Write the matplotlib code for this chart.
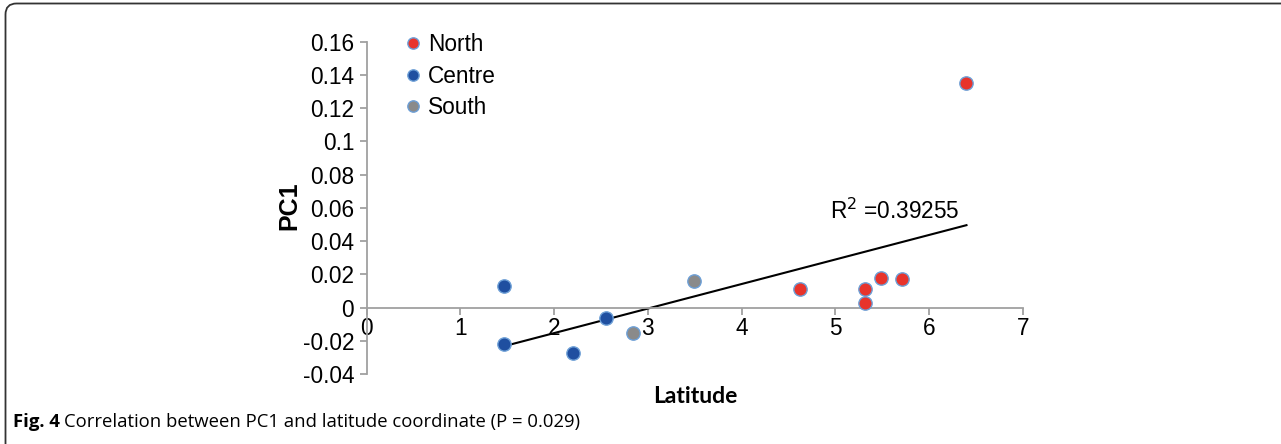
import numpy as np
import matplotlib
matplotlib.use("Agg")
import matplotlib.pyplot as plt
from matplotlib.patches import PathPatch
from matplotlib.path import Path

# Latitude / PC1 values by region
north_lat = [4.62, 5.32, 5.32, 5.49, 5.71, 6.40]
north_pc1 = [0.011, 0.011, 0.003, 0.018, 0.017, 0.135]
centre_lat = [1.46, 1.46, 2.20, 2.55]
centre_pc1 = [0.013, -0.022, -0.027, -0.006]
south_lat = [2.84, 3.49]
south_pc1 = [-0.015, 0.016]

x_ticks = [0, 1, 2, 3, 4, 5, 6, 7]
y_ticks = [-0.04, -0.02, 0, 0.02, 0.04, 0.06, 0.08, 0.1, 0.12, 0.14, 0.16]
y_ticklabels = ["-0.04", "-0.02", "0", "0.02", "0.04", "0.06", "0.08", "0.1",
                "0.12", "0.14", "0.16"]
r2_label = "0.39255"

W, H, DPI = 1281, 444, 100
fig = plt.figure(figsize=(W / DPI, H / DPI), dpi=DPI)
fig.patch.set_facecolor("white")

# frame around the figure panel (open to the right and bottom)
frame = fig.add_axes([0, 0, 1, 1])
frame.set_xlim(0, W)
frame.set_ylim(H, 0)
frame.axis("off")
r = 11
x0, y0 = 5.5, 3.5
verts = [(x0, H + 5), (x0, y0 + r), (x0, y0), (x0 + r, y0), (W + 5, y0)]
codes = [Path.MOVETO, Path.LINETO, Path.CURVE3, Path.CURVE3, Path.LINETO]
frame.add_patch(PathPatch(Path(verts, codes), fill=False, edgecolor="#333333", lw=1.3))

ax = fig.add_axes([366.7 / W, (H - 374.2) / H, 656 / W, (374.2 - 41.7) / H])
ax.set_xlim(0, 7)
ax.set_ylim(-0.04, 0.16)
ax.patch.set_alpha(0)

fs = 16.3
tick_font = dict(family="Liberation Sans", size=fs)
axis_grey = "#a0a0a0"
for s in ["top", "right"]:
    ax.spines[s].set_visible(False)
ax.spines["bottom"].set_position(("data", 0))
ax.spines["left"].set_position(("data", 0))
for s in ["bottom", "left"]:
    ax.spines[s].set_color(axis_grey)
    ax.spines[s].set_linewidth(1.3)

ax.set_xticks(x_ticks)
ax.set_xticklabels([str(v) for v in x_ticks], **tick_font)
ax.set_yticks(y_ticks)
ax.set_yticklabels(y_ticklabels, **tick_font)
ax.tick_params(axis="both", color=axis_grey, width=1.3, length=5, direction="out")
ax.tick_params(axis="x", pad=2)
ax.tick_params(axis="y", pad=4)

edge = "#6d9fd6"
ms = 9.6
ax.plot(north_lat, north_pc1, "o", ms=ms, mfc="#e8332b", mec=edge, mew=1.0,
        label="North", zorder=3)
ax.plot(centre_lat, centre_pc1, "o", ms=ms, mfc="#1f4fa0", mec=edge, mew=1.0,
        label="Centre", zorder=3)
ax.plot(south_lat, south_pc1, "o", ms=ms, mfc="#8a8a8a", mec=edge, mew=1.0,
        label="South", zorder=3)

# least-squares trend over all sites
all_lat = np.array(north_lat + centre_lat + south_lat)
all_pc1 = np.array(north_pc1 + centre_pc1 + south_pc1)
slope, intercept = np.polyfit(all_lat, all_pc1, 1)
xs = np.array([all_lat.min(), all_lat.max()])
ax.plot(xs, slope * xs + intercept, color="black", lw=1.5, zorder=2)

ax.text(4.94, 0.0535, r"R$^{2}$ =" + r2_label, fontsize=fs,
        family="Liberation Sans", ha="left", va="baseline")

ax.set_ylabel("PC1", family="Liberation Sans", fontsize=18, fontweight="bold")
ax.yaxis.set_label_coords(-0.1, 0.506)
ax.set_xlabel("Latitude", family="Lato", fontsize=16.5, fontweight="bold",
              va="center")
ax.xaxis.set_label_coords(0.5005, -0.066)

leg = ax.legend(loc="upper left", bbox_to_anchor=(0.019, 1.087), frameon=False,
                prop=dict(family="Liberation Sans", size=fs), handletextpad=0.05,
                labelspacing=0.38, markerscale=0.85, handlelength=1.2)

# caption
cap_y = 1 - 427 / H
cfs = 13.3
t1 = fig.text(13 / W, cap_y, "Fig. 4", family="Open Sans", fontsize=cfs,
              fontweight="bold", va="baseline")
fig.canvas.draw()
bb = t1.get_window_extent()
fig.text((bb.x1 + 4) / W, cap_y,
         "Correlation between PC1 and latitude coordinate (P = 0.029)",
         family="Open Sans", fontsize=cfs, va="baseline")

fig.savefig("out.png", dpi=DPI)
